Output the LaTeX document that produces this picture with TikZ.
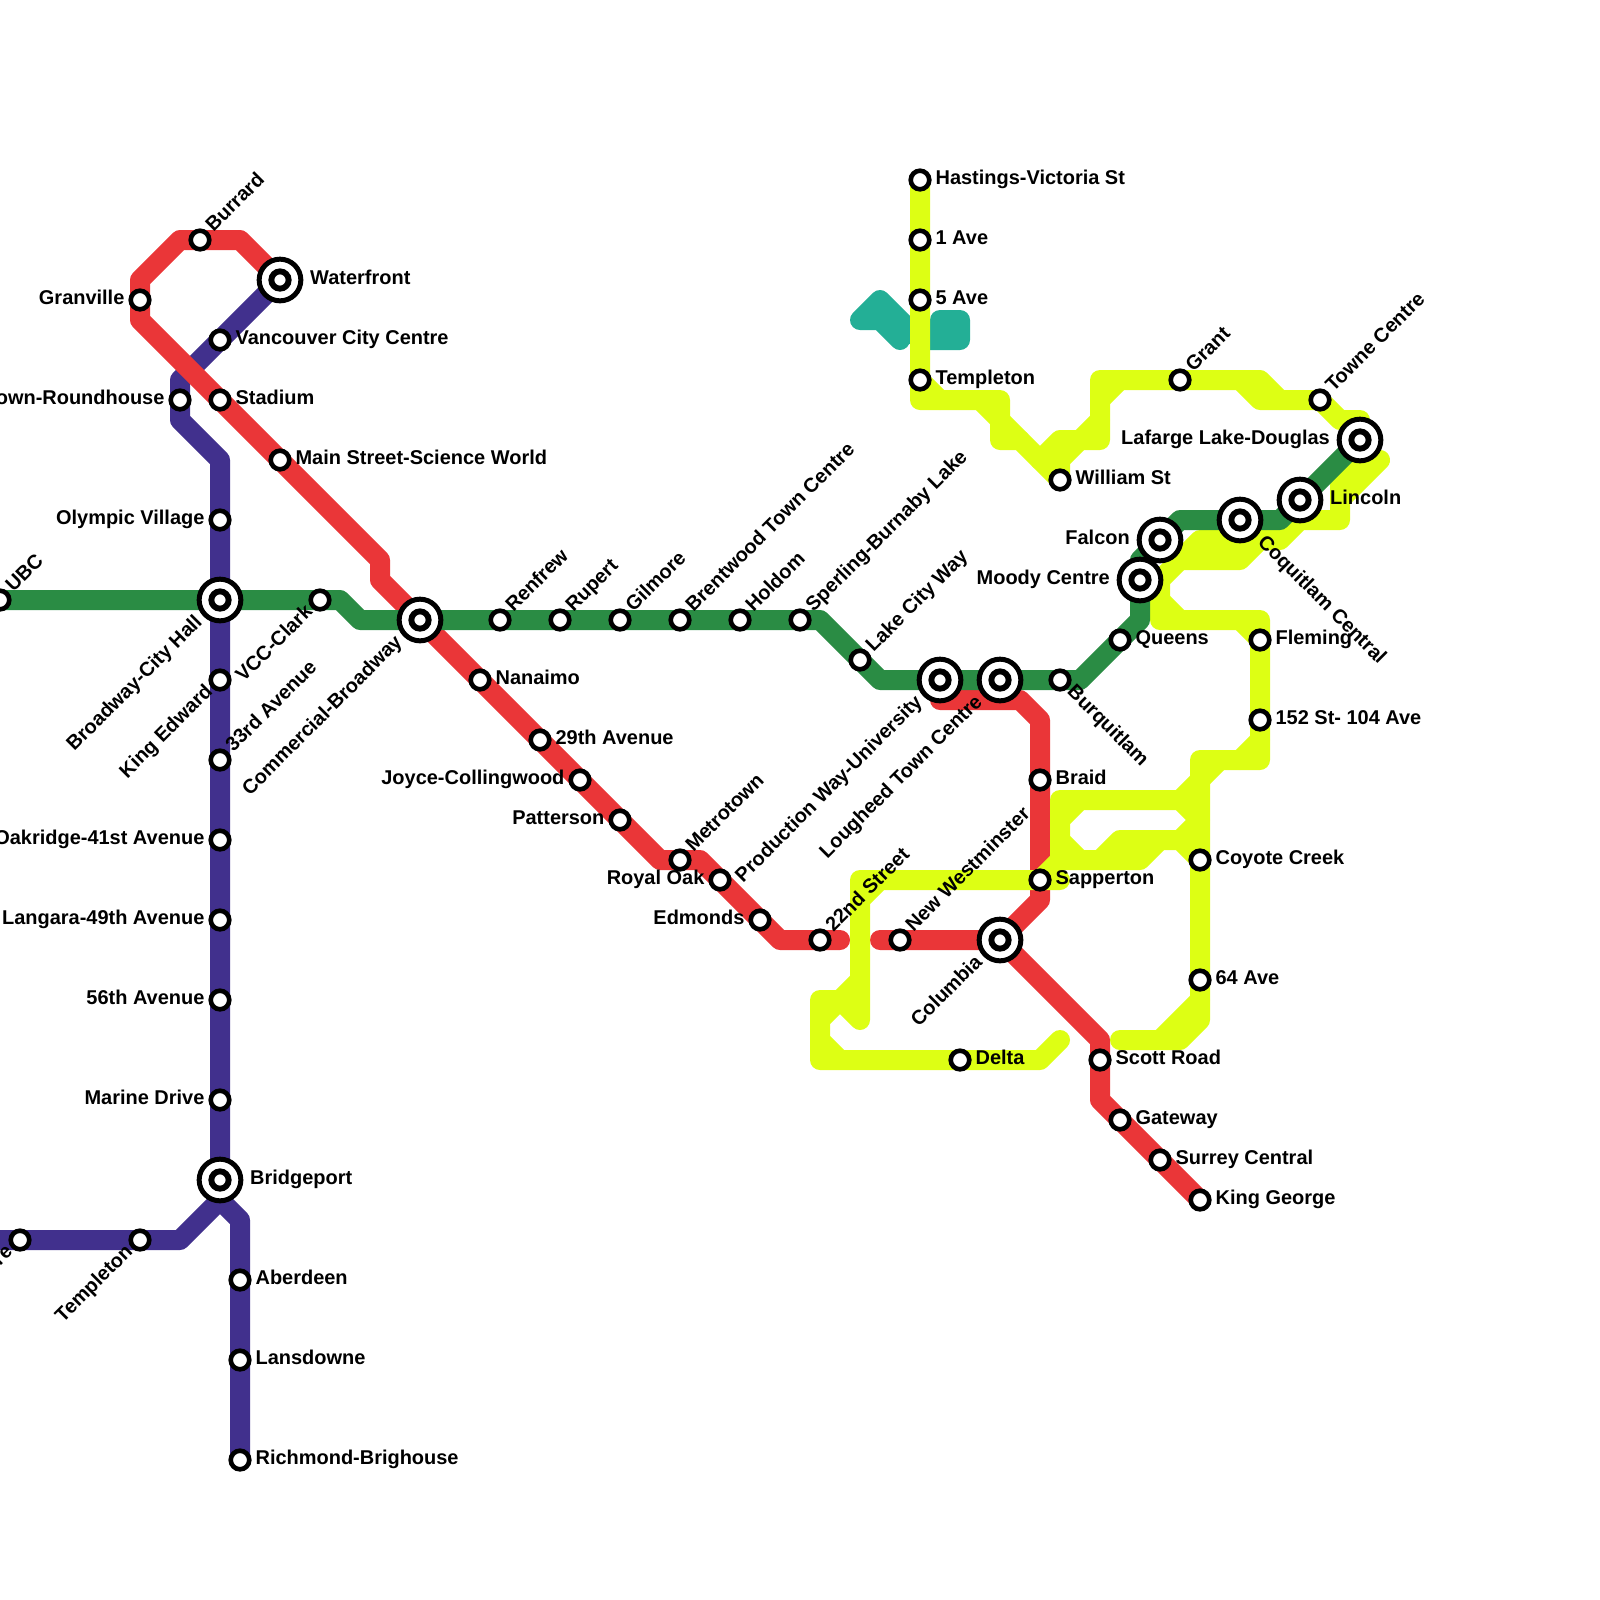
\documentclass[tikz,border=0pt]{standalone}
\usepackage{fontspec}
\setmainfont{Liberation Sans}
\definecolor{expo}{RGB}{234,54,56}
\definecolor{canada}{RGB}{65,48,141}
\definecolor{millennium}{RGB}{42,140,68}
\definecolor{lime}{RGB}{221,255,20}
\definecolor{seabus}{RGB}{35,175,150}
\tikzset{
	route/.style={line width=0.5cm,line cap=round,line join=round},
	station/.style={circle,draw=black,fill=white,line width=3.3pt,minimum size=13.2pt,inner sep=0pt},
	hub/.style={circle,draw=black,fill=white,line width=3.55pt,minimum size=29.65pt,inner sep=0pt},
	hubcore/.style={circle,draw=black,fill=white,line width=4.2pt,minimum size=12.3pt,inner sep=0pt},
	tag/.style={inner sep=0pt,font=\bfseries\fontsize{14.2}{16}\selectfont},
	tr/.style={tag,anchor=base west,xshift=10.9pt,yshift=-3.4pt},
	tl/.style={tag,anchor=base east,xshift=-10.9pt,yshift=-3.4pt},
	hr/.style={tag,anchor=base west,xshift=21.3pt,yshift=-3.4pt},
	hl/.style={tag,anchor=base east,xshift=-21.3pt,yshift=-3.4pt},
	up/.style={tag,rotate=45,anchor=base west,xshift=10.3pt,yshift=-3.2pt},
	dn/.style={tag,rotate=45,anchor=base east,xshift=-9.5pt,yshift=-3.2pt},
	hdn/.style={tag,rotate=45,anchor=base east,xshift=-20pt,yshift=-3.2pt},
	slope/.style={tag,rotate=-45,anchor=base west,xshift=9.5pt,yshift=-3.2pt},
	hslope/.style={tag,rotate=-45,anchor=base west,xshift=20pt,yshift=-3.2pt},
}
\def\smallstops{hastings/46/9/tr/Hastings-Victoria St,firstave/46/12/tr/1 Ave,fifthave/46/15/tr/5 Ave,templetonE/46/19/tr/Templeton,william/53/24/tr/William St,queens/56/32/tr/Queens,fleming/63/32/tr/Fleming,onefiftytwo/63/36/tr/152 St- 104 Ave,braid/52/39/tr/Braid,coyote/60/43/tr/Coyote Creek,sapperton/52/44/tr/Sapperton,sixtyfour/60/49/tr/64 Ave,delta/48/53/tr/Delta,scott/55/53/tr/Scott Road,gateway/56/56/tr/Gateway,surrey/58/58/tr/Surrey Central,king/60/60/tr/King George,vancouver/11/17/tr/Vancouver City Centre,stadium/11/20/tr/Stadium,mainst/14/23/tr/Main Street-Science World,nanaimo/24/34/tr/Nanaimo,twentyninth/27/37/tr/29th Avenue,aberdeen/12/64/tr/Aberdeen,lansdowne/12/68/tr/Lansdowne,richmond/12/73/tr/Richmond-Brighouse,granville/7/15/tl/Granville,yaletown/9/20/tl/Yaletown-Roundhouse,olympic/11/26/tl/Olympic Village,oakridge/11/42/tl/Oakridge-41st Avenue,langara/11/46/tl/Langara-49th Avenue,fiftysixth/11/50/tl/56th Avenue,marine/11/55/tl/Marine Drive,joyce/29/39/tl/Joyce-Collingwood,patterson/31/41/tl/Patterson,royaloak/36/44/tl/Royal Oak,edmonds/38/46/tl/Edmonds,burrard/10/12/up/Burrard,ubc/0/30/up/UBC,renfrew/25/31/up/Renfrew,rupert/28/31/up/Rupert,gilmore/31/31/up/Gilmore,brentwood/34/31/up/Brentwood Town Centre,holdom/37/31/up/Holdom,sperling/40/31/up/Sperling-Burnaby Lake,lakecity/43/33/up/Lake City Way,metrotown/34/43/up/Metrotown,thirtythird/11/38/up/33rd Avenue,twentysecond/41/47/up/22nd Street,newwest/45/47/up/New Westminster,grant/59/19/up/Grant,towne/66/20/up/Towne Centre,kingedward/11/34/dn/King Edward,vcc/16/30/dn/VCC-Clark,templetonW/7/62/dn/Templeton,seaisland/1/62/dn/Sea Island Centre,burquitlam/53/34/slope/Burquitlam}
\def\bigstops{waterfront/14/14/hr/Waterfront,bridgeport/11/59/hr/Bridgeport,lincoln/65/25/hr/Lincoln,falcon/58/27/hl/Falcon,moody/57/29/hl/Moody Centre,lafarge/68/22/hl/Lafarge Lake-Douglas,broadway/11/30/hdn/Broadway-City Hall,commercial/21/31/hdn/Commercial-Broadway,production/47/34/hdn/Production Way-University,lougheed/50/34/hdn/Lougheed Town Centre,columbia/50/47/hdn/Columbia,coquitlam/62/26/hslope/Coquitlam Central}
\begin{document}
\begin{tikzpicture}[x=0.5cm,y=-0.5cm]
	\useasboundingbox (0,0) rectangle (80,80);
	\foreach \sname/\gx/\gy/\side/\txt in \smallstops {\coordinate (\sname) at (\gx,\gy);}
	\foreach \sname/\gx/\gy/\side/\txt in \bigstops {\coordinate (\sname) at (\gx,\gy);}
	% seabus
	\draw[route,seabus] (43,16)--(44,15)--(46,17)--(48,17)--(48,16)--(47,16)--(47,17) (43,16)--(44,16)--(45,17);
	% canada line
	\draw[route,canada] (waterfront)--(vancouver)--(9,19)--(9,21)--(11,23)--(bridgeport)--(11,60)--(12,61)--(richmond);
	\draw[route,canada] (bridgeport)--(11,60)--(9,62)--(seaisland)--(0,62);
	% expo line
	\draw[route,expo] (waterfront)--(12,12)--(9,12)--(7,14)--(7,16)--(stadium)--(19,28)--(19,29)--(commercial)--(33,43)--(35,43)--(39,47)--(42,47);
	\draw[route,expo] (44,47)--(columbia)--(52,45)--(52,36)--(51,35)--(47,35);
	\draw[route,expo] (columbia)--(55,52)--(55,55)--(king);
	% lime lines
	\draw[route,lime] (hastings)--(46,20)--(50,20)--(50,22)--(51,22)--(william)--(53,23)--(54,22);
	\draw[route,lime] (templetonE)--(47,20) (49,20)--(50,21)--(51,22);
	\draw[route,lime] (52,23)--(53,22)--(55,22)--(55,19)--(63,19)--(64,20)--(towne)--(67,21)--(68,21)--(lafarge);
	\draw[route,lime] (54,22)--(55,21) (55,20)--(56,19) (62,19)--(63,20)--(64,20);
	\draw[route,lime] (67,25)--(69,23)--(68,23)--(67,24)--(67,26)--(65,26)--(64,27)--(60,27)--(58,29)--(58,31)--(63,31)--(63,38)--(60,38)--(60,51)--(59,52)--(56,52);
	\draw[route,lime] (58,30)--(59,31) (62,31)--(fleming) (59,28)--(62,28)--(63,27) (62,38)--(63,37) (60,39)--(61,38) (58,52)--(60,50);
	\draw[route,lime] (sapperton)--(53,43)--(53,40)--(59,40)--(60,39) (53,41)--(54,40) (53,42)--(54,43) (53,43)--(57,43)--(58,42);
	\draw[route,lime] (55,43)--(56,42)--(59,42)--(coyote) (59,40)--(60,41)--(59,42);
	\draw[route,lime] (53,44)--(43,44)--(43,51) (43,45)--(44,44) (43,49)--(42,50)--(41,50)--(41,53)--(52,53)--(53,52) (42,50)--(43,51) (41,52)--(42,53) (41,51)--(42,50);
	% millennium line
	\draw[route,millennium] (ubc)--(17,30)--(18,31)--(41,31)--(44,34)--(54,34)--(57,31)--(57,28)--(59,26)--(64,26)--(lafarge);
	% stations
	\foreach \sname/\gx/\gy/\side/\txt in \bigstops {
		\node[hub] (ring-\sname) at (\sname) {};
		\node[hubcore] (stop-\sname) at (\sname) {};
		\node[\side] (tag-\sname) at (\sname) {\txt};
	}
	\foreach \sname/\gx/\gy/\side/\txt in \smallstops {
		\node[station] (stop-\sname) at (\sname) {};
		\node[\side] (tag-\sname) at (\sname) {\txt};
	}
\end{tikzpicture}
\end{document}
